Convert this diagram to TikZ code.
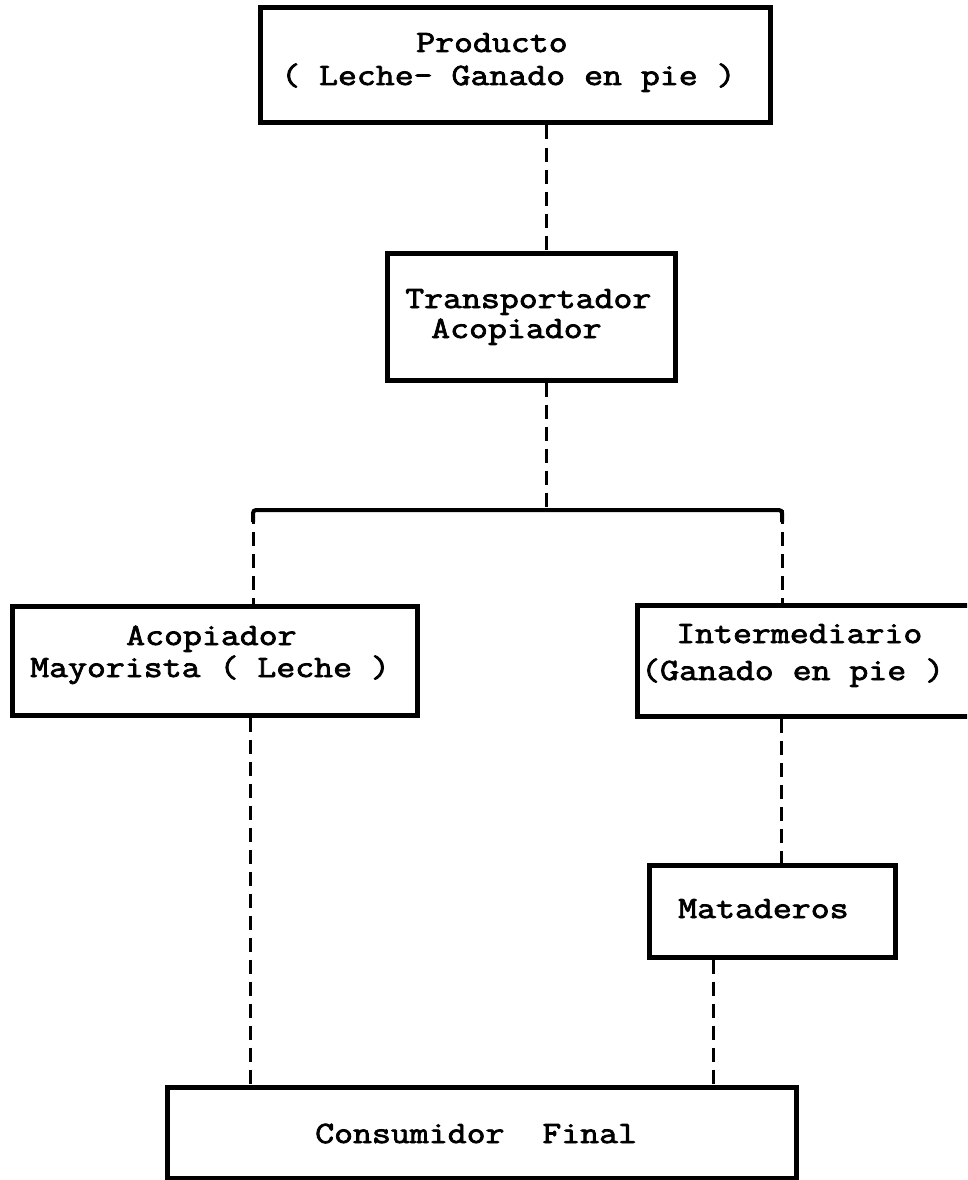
\documentclass[tikz,border=0pt]{standalone}
\usepackage{fontspec}
\usetikzlibrary{calc}
\newfontfamily\tw{Latin Modern Mono}[FakeStretch=1.186,FakeBold=2.5]
\begin{document}
\begin{tikzpicture}[x=1pt,y=-1pt,
  boxst/.style={draw=black,line width=5pt,rectangle,inner sep=0pt,minimum width=#1},
  lbl/.style={anchor=base west,inner sep=0pt,font=\tw\fontsize{31}{32}\selectfont,text=black},
  dline/.style={draw=black,line width=3pt,dash pattern=on 14pt off 8pt},
  sline/.style={draw=black,line width=4pt,rounded corners=3pt}]
\useasboundingbox (0,0) rectangle (967,1180);
\clip (0,0) rectangle (967,1180);
% boxes
\node[boxst=510pt,minimum height=115pt] (prod) at (515,65.5) {};
\node[boxst=288pt,minimum height=127pt] (trans) at (531,316.5) {};
\node[boxst=405pt,minimum height=109pt] (acop) at (214.5,660.5) {};
\node[boxst=353pt,minimum height=111pt] (inter) at (813.5,660.5) {};
\node[boxst=246pt,minimum height=92pt] (mat) at (772,911) {};
\node[boxst=629pt,minimum height=91pt] (cons) at (481.5,1132.5) {};
% texts
\node[lbl] (t1a) at (416,52) {Producto};
\node[lbl] (t1b) at (281,85) {( Leche- Ganado en pie )};
\node[lbl] (t2a) at (405,308) {Transportador};
\node[lbl] (t2b) at (431,338) {Acopiador};
\node[lbl] (t3a) at (126,645) {Acopiador};
\node[lbl] (t3b) at (30,677) {Mayorista ( Leche )};
\node[lbl] (t4a) at (676,643) {Intermediario};
\node[lbl] (t4b) at (641,680) {(Ganado en pie )};
\node[lbl] (t5) at (678,918) {Mataderos};
\node[lbl] (t6) at (315,1143) {Consumidor \ Final};
% connector x positions
\coordinate (xa) at (546,0);
\coordinate (jn) at (546,510);
\coordinate (jl) at (253,510);
\coordinate (jr) at (782,510);
\coordinate (xl) at (250,0);
\coordinate (xr) at (781,0);
\coordinate (xm) at (713,0);
% connectors
\draw[dline] (prod.south -| xa) -- (trans.north -| xa);
\draw[dline] (trans.south -| xa) -- (jn);
\draw[sline] ($(jl)+(0,12)$) -- (jl) -- (jr) -- ($(jr)+(0,12)$);
\draw[dline] (jl) -- (acop.north -| jl);
\draw[dline] (jr) -- (inter.north -| jr);
\draw[dline] (acop.south -| xl) -- (cons.north -| xl);
\draw[dline] (inter.south -| xr) -- (mat.north -| xr);
\draw[dline] (mat.south -| xm) -- (cons.north -| xm);
\end{tikzpicture}
\end{document}
